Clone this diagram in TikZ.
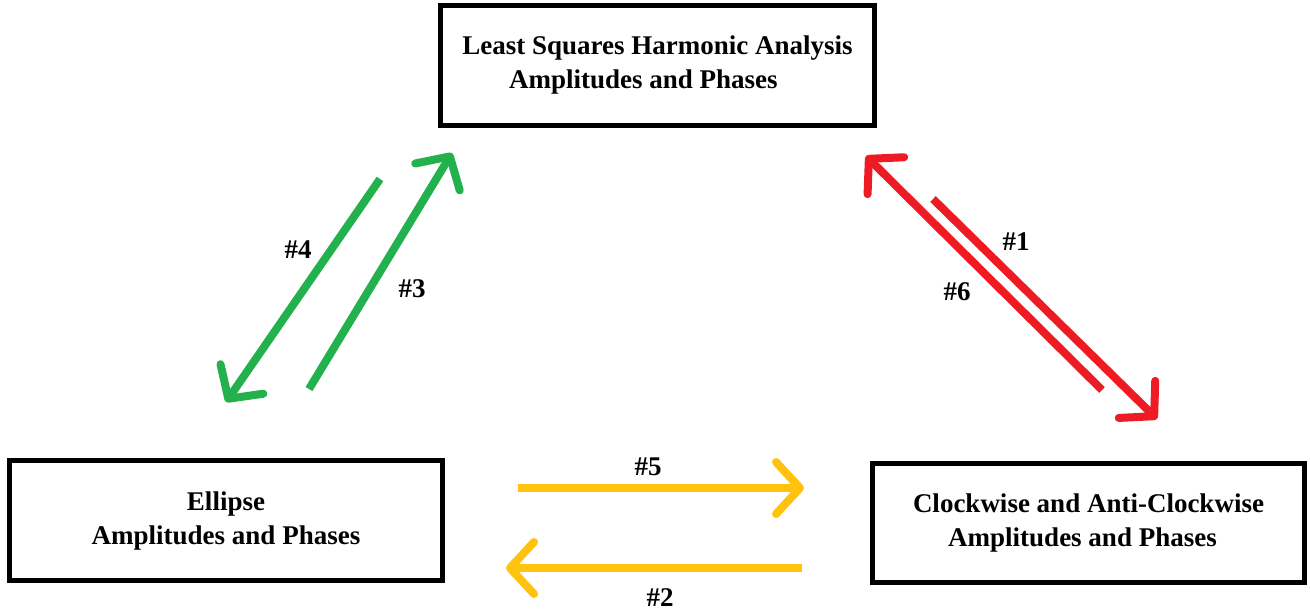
\documentclass[tikz,border=0pt]{standalone}
\usepackage{fontspec}
\setmainfont{Liberation Serif}
\usetikzlibrary{arrows.meta}
\definecolor{pgreen}{HTML}{22B14C}
\definecolor{pred}{HTML}{ED1C24}
\definecolor{pyellow}{HTML}{FFC20E}
\tikzset{
  box/.style={draw=black, line width=5pt, fill=white, align=center, inner sep=0pt,
    font=\bfseries\fontsize{27}{34}\selectfont},
  lbl/.style={font=\bfseries\fontsize{27}{34}\selectfont, inner sep=0pt},
  arr/.style={line width=8pt, -{Straight Barb[length=24pt,width=52pt,round]}},
}
\begin{document}
\begin{tikzpicture}[x=1pt,y=-1pt]
\useasboundingbox (0,0) rectangle (1310,614);
\node[box, minimum width=434pt, minimum height=120pt] (top) at (657.5,65.5)
  {Least Squares Harmonic Analysis\\Amplitudes and Phases\hspace*{28pt}};
\node[box, minimum width=433pt, minimum height=120pt] (ell) at (226,520.5)
  {\raisebox{3pt}{Ellipse}\\\raisebox{3pt}{Amplitudes and Phases}};
\node[box, minimum width=432pt, minimum height=119pt] (cw) at (1088.5,523)
  {Clockwise and Anti-Clockwise\\Amplitudes and Phases\hspace*{12pt}};
% green
\coordinate (g3s) at (309,389);
\coordinate (g3e) at (452,153);
\coordinate (g4s) at (380,179);
\coordinate (g4e) at (226,402);
\draw[arr, pgreen] (g3s) -- (g3e);
\draw[arr, pgreen] (g4s) -- (g4e);
% red
\coordinate (r1s) at (933,199);
\coordinate (r1e) at (1157,419);
\coordinate (r6s) at (1102,390);
\coordinate (r6e) at (866,156);
\draw[arr, pred] (r1s) -- (r1e);
\draw[arr, pred] (r6s) -- (r6e);
% yellow
\coordinate (y5s) at (518,488);
\coordinate (y5e) at (804,488);
\coordinate (y2s) at (802,568);
\coordinate (y2e) at (506,568);
\draw[arr, pyellow] (y5s) -- (y5e);
\draw[arr, pyellow] (y2s) -- (y2e);
% labels
\node[lbl] (l4) at (298,250) {\#4};
\node[lbl] (l3) at (412,289) {\#3};
\node[lbl] (l1) at (1016,242) {\#1};
\node[lbl] (l6) at (957,292) {\#6};
\node[lbl] (l5) at (648,467) {\#5};
\node[lbl] (l2) at (660,598) {\#2};
\end{tikzpicture}
\end{document}
